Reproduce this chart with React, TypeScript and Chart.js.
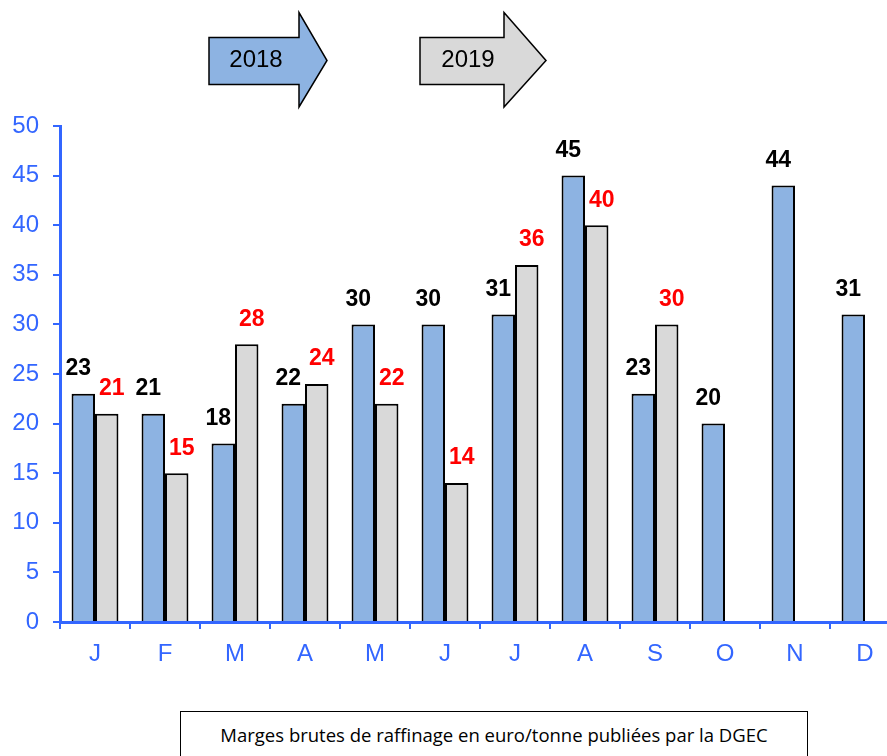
import React, { useEffect, useRef } from "react";
import { Chart, registerables } from "chart.js";

Chart.register(...registerables);

const months = ["J", "F", "M", "A", "M", "J", "J", "A", "S", "O", "N", "D"];
const values2018 = [23, 21, 18, 22, 30, 30, 31, 45, 23, 20, 44, 31];
const values2019: (number | null)[] = [21, 15, 28, 24, 22, 14, 36, 40, 30, null, null, null];
const yTicks = [0, 5, 10, 15, 20, 25, 30, 35, 40, 45, 50];
const seriesNames = ["2018", "2019"];
const caption = "Marges brutes de raffinage en euro/tonne publiées par la DGEC";

const AXIS_BLUE = "#3366ff";
const BAR_BLUE = "#8db3e2";
const BAR_GREY = "#d9d9d9";

const labelPlugin = {
  id: "barLabels",
  afterDatasetsDraw(chart: any) {
    const ctx = chart.ctx;
    const settings = [
      { color: "#000000", dx: -5 },
      { color: "#ff0000", dx: 5 },
    ];
    chart.data.datasets.forEach((ds: any, di: number) => {
      const meta = chart.getDatasetMeta(di);
      meta.data.forEach((bar: any, i: number) => {
        const v = ds.data[i];
        if (v === null || v === undefined) return;
        ctx.save();
        ctx.font = "bold 23px 'Liberation Sans', Arial, sans-serif";
        ctx.fillStyle = settings[di].color;
        ctx.textAlign = "center";
        ctx.textBaseline = "middle";
        ctx.fillText(String(v), bar.x + settings[di].dx, bar.y - 25);
        ctx.restore();
      });
    });
  },
};

function Arrow({
  left,
  w,
  bodyW,
  textX,
  fill,
  label,
}: {
  left: number;
  w: number;
  bodyW: number;
  textX: number;
  fill: string;
  label: string;
}) {
  return (
    <svg
      width={w + 4}
      height={100}
      style={{ position: "absolute", left: left - 2, top: 10 }}
    >
      <polygon
        points={`2,27.5 ${2 + bodyW},27.5 ${2 + bodyW},2.5 ${2 + w},50.5 ${2 + bodyW},97 ${2 + bodyW},74.5 2,74.5`}
        fill={fill}
        stroke="#000"
        strokeWidth={1.5}
      />
      <text
        x={2 + textX}
        y={51}
        textAnchor="middle"
        dominantBaseline="middle"
        fontFamily="'Liberation Sans', Arial, sans-serif"
        fontSize={24}
        fill="#000"
      >
        {label}
      </text>
    </svg>
  );
}

export default function App() {
  const canvasRef = useRef<HTMLCanvasElement | null>(null);

  useEffect(() => {
    if (!canvasRef.current) return;
    const chart = new Chart(canvasRef.current, {
      type: "bar",
      data: {
        labels: months,
        datasets: [
          {
            label: seriesNames[0],
            data: values2018,
            backgroundColor: BAR_BLUE,
            borderColor: "#000",
            borderWidth: 2,
            categoryPercentage: 0.67,
            barPercentage: 1,
          },
          {
            label: seriesNames[1],
            data: values2019,
            backgroundColor: BAR_GREY,
            borderColor: "#000",
            borderWidth: 2,
            categoryPercentage: 0.67,
            barPercentage: 1,
          },
        ],
      },
      options: {
        responsive: false,
        animation: false,
        layout: { padding: { top: 126, left: 0, right: 0, bottom: 0 } },
        plugins: {
          legend: { display: false },
          tooltip: { enabled: false },
          title: { display: false },
        },
        scales: {
          x: {
            offset: true,
            grid: {
              offset: true,
              drawOnChartArea: false,
              drawTicks: true,
              tickLength: 7,
              color: AXIS_BLUE,
              lineWidth: 2,
            },
            border: { display: true, color: AXIS_BLUE, width: 3 },
            ticks: {
              color: AXIS_BLUE,
              padding: 11,
              font: { family: "'Liberation Sans', Arial, sans-serif", size: 24 },
            },
            afterFit(scale: any) {
              scale.height = 134;
            },
          },
          y: {
            min: 0,
            max: 50,
            afterBuildTicks(scale: any) {
              scale.ticks = yTicks.map((v) => ({ value: v }));
            },
            grid: {
              drawOnChartArea: false,
              drawTicks: true,
              tickLength: 7,
              color: AXIS_BLUE,
              lineWidth: 2,
            },
            border: { display: true, color: AXIS_BLUE, width: 3 },
            ticks: {
              color: AXIS_BLUE,
              padding: 14,
              font: { family: "'Liberation Sans', Arial, sans-serif", size: 24 },
            },
            afterFit(scale: any) {
              scale.width = 60;
            },
          },
        },
      },
      plugins: [labelPlugin],
    });
    return () => chart.destroy();
  }, []);

  return (
    <div
      style={{
        position: "fixed",
        left: 0,
        top: 0,
        width: 887,
        height: 756,
        overflow: "hidden",
        background: "#fff",
      }}
    >
      <canvas
        ref={canvasRef}
        width={900}
        height={756}
        style={{ position: "absolute", left: 0, top: 0, width: 900, height: 756 }}
      />
      <Arrow left={209} w={118} bodyW={90} textX={47} fill="#8db3e2" label={seriesNames[0]} />
      <Arrow left={420} w={126} bodyW={84} textX={48} fill="#d9d9d9" label={seriesNames[1]} />
      <div
        style={{
          position: "absolute",
          left: 180,
          top: 711,
          width: 628,
          height: 60,
          border: "1px solid #000",
          boxSizing: "border-box",
          background: "#fff",
        }}
      >
        <div
          style={{
            position: "absolute",
            left: 0,
            right: 0,
            top: 10,
            textAlign: "center",
            fontFamily: "'Open Sans', 'Noto Sans', sans-serif",
            fontSize: 18.5,
            color: "#000",
            whiteSpace: "nowrap",
          }}
        >
          {caption}
        </div>
      </div>
    </div>
  );
}
